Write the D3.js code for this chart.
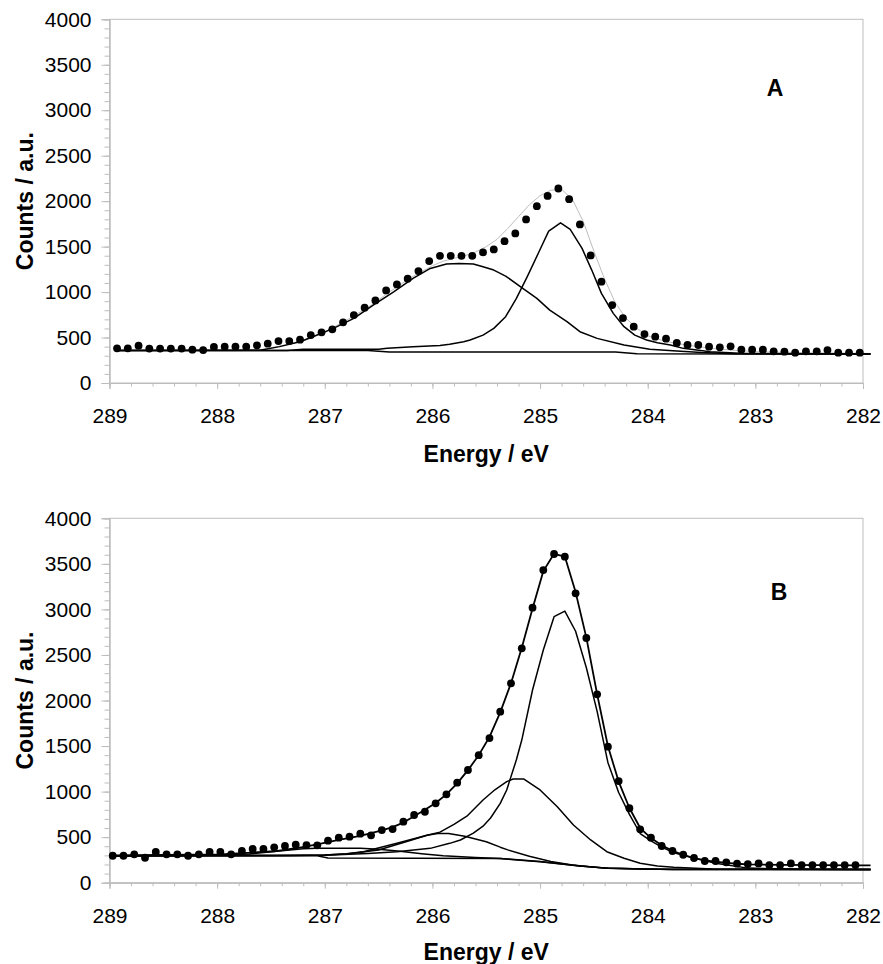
<!DOCTYPE html>
<html>
<head>
<meta charset="utf-8">
<script src="https://d3js.org/d3.v7.min.js"></script>
<style>
body { margin: 0; background: #fff; }
text { font-family: "Liberation Sans", Arial, sans-serif; }
</style>
</head>
<body>
<div id="chart"></div>
<script>
// ---- panel A : measured points ----
var energyA = [288.93,288.83,288.73,288.63,288.53,288.43,288.33,288.23,288.13,288.03,
	287.93,287.83,287.73,287.63,287.53,287.43,287.33,287.23,287.13,287.03,
	286.93,286.83,286.73,286.63,286.53,286.43,286.33,286.23,286.13,286.03,
	285.93,285.83,285.73,285.63,285.53,285.43,285.33,285.23,285.13,285.03,
	284.93,284.83,284.73,284.63,284.53,284.43,284.33,284.23,284.13,284.03,
	283.93,283.83,283.73,283.63,283.53,283.43,283.33,283.23,283.13,283.03,
	282.93,282.83,282.73,282.63,282.53,282.43,282.33,282.23,282.13,282.03];
var countsA = [381,381,410,379,379,379,379,366,362,396,
	399,399,399,414,432,461,461,476,527,557,
	590,667,747,828,908,1018,1084,1147,1231,1341,
	1399,1399,1399,1399,1436,1469,1560,1645,1799,1945,
	2058,2139,2022,1744,1403,1114,857,714,619,538,
	509,487,440,418,418,399,392,403,366,366,
	366,348,344,333,348,348,362,333,333,333];

// panel A : fitted curves [energy, counts]
var bgA = [[288.93,357],[286.6,357],[286.4,341],[284.3,341],[284.1,322],[281.93,318]];
var peak1A = [[288.93,357],[287.6,360],[287.42,400],[287.23,454],[287.11,509],[286.92,601],[286.73,711],
	[286.55,857],[286.36,1003],[286.18,1151],[286.02,1260],[285.87,1308],[285.75,1315],[285.62,1308],
	[285.53,1278],[285.43,1242],[285.32,1176],[285.18,1058],[285.03,931],[284.91,802],[284.75,674],
	[284.63,564],[284.47,491],[284.22,418],[283.98,370],[283.73,352],[283.5,335],[283.2,322],[281.93,318]];
var peak2A = [[288.93,357],[287.35,357],[287.2,370],[286.5,372],[286.42,381],[286.18,399],[285.93,412],
	[285.84,425],[285.71,454],[285.65,473],[285.53,527],[285.43,601],[285.32,729],[285.22,931],
	[285.12,1168],[285.01,1443],[284.92,1670],[284.81,1762],[284.72,1689],[284.61,1480],[284.52,1242],
	[284.43,986],[284.32,766],[284.22,619],[284.12,527],[284.01,473],[283.91,443],[283.79,418],
	[283.67,381],[283.42,344],[283.1,325],[281.93,318]];
var envA = [[288.93,360],[287.6,365],[287.4,410],[287.2,470],[287.0,560],[286.8,690],[286.6,830],
	[286.4,1000],[286.2,1160],[286.0,1290],[285.9,1340],[285.8,1370],[285.7,1400],[285.6,1440],
	[285.5,1500],[285.4,1580],[285.3,1700],[285.2,1830],[285.1,1960],[285.0,2060],[284.9,2120],
	[284.8,2130],[284.7,2020],[284.6,1780],[284.5,1450],[284.4,1140],[284.3,880],[284.2,710],
	[284.1,600],[284.0,520],[283.9,480],[283.8,450],[283.6,410],[283.4,380],[283.2,360],[283.0,345],
	[282.6,335],[281.93,325]];

// ---- panel B : measured points ----
var energyB = [288.97,288.87,288.77,288.67,288.57,288.47,288.37,288.27,288.17,288.07,
	287.97,287.87,287.77,287.67,287.57,287.47,287.37,287.27,287.17,287.07,
	286.97,286.87,286.77,286.67,286.57,286.47,286.37,286.27,286.17,286.07,
	285.97,285.87,285.77,285.67,285.57,285.47,285.37,285.27,285.17,285.07,
	284.97,284.87,284.77,284.67,284.57,284.47,284.37,284.27,284.17,284.07,
	283.97,283.87,283.77,283.67,283.57,283.47,283.37,283.27,283.17,283.07,
	282.97,282.87,282.77,282.67,282.57,282.47,282.37,282.27,282.17,282.07];
var countsB = [296,296,311,274,337,311,311,296,311,337,
	337,311,348,370,370,388,403,417,413,410,
	461,494,505,538,520,578,589,670,743,779,
	871,970,1098,1237,1400,1588,1877,2189,2573,3019,
	3432,3608,3579,3177,2686,2068,1493,1116,817,586,
	494,403,348,307,271,238,238,224,209,204,
	212,194,194,212,194,194,194,194,194,194];

// panel B : fitted curves
var bgB = [[288.97,296],[287.07,296],[286.97,270],[285.37,265],[285.0,231],[284.63,183],[284.37,158],
	[283.77,145],[281.93,145]];
var peak1B = [[288.97,296],[287.5,298],[287.0,300],[286.6,320],[286.33,340],[286.02,377],[285.84,432],
	[285.74,469],[285.62,545],[285.53,620],[285.46,710],[285.37,870],[285.31,1018],[285.22,1349],
	[285.17,1566],[285.07,2115],[284.97,2555],[284.87,2920],[284.77,2982],[284.67,2760],[284.57,2360],
	[284.47,1880],[284.37,1320],[284.27,990],[284.17,750],[284.07,540],[283.97,460],[283.87,390],
	[283.77,335],[283.67,300],[283.37,213],[283.07,160],[282.5,148],[281.93,145]];
var peak2B = [[288.97,296],[287.5,298],[287.0,305],[286.8,318],[286.64,340],[286.33,432],[286.05,520],
	[285.93,555],[285.8,640],[285.68,730],[285.62,800],[285.53,908],[285.42,1020],[285.31,1110],
	[285.25,1138],[285.15,1138],[285.0,1018],[284.84,834],[284.69,633],[284.53,469],[284.38,340],
	[284.22,268],[284.07,213],[283.91,183],[283.76,169],[283.4,150],[281.93,145]];
var peak3B = [[288.97,296],[287.3,298],[287.0,304],[286.8,315],[286.5,359],[286.2,465],[286.05,520],
	[285.95,540],[285.85,540],[285.7,510],[285.5,450],[285.37,390],[285.3,360],[285.1,290],[284.9,232],
	[284.7,195],[284.4,160],[284.0,148],[281.93,145]];
var peak4B = [[288.97,296],[288.0,300],[287.7,315],[287.4,350],[287.2,372],[287.07,377],[286.67,377],
	[286.5,368],[286.3,345],[286.1,318],[285.9,295],[285.6,276],[285.37,266],[285.0,232],[284.63,184],
	[284.37,159],[283.77,146],[281.93,145]];
var envB = [[288.97,300],[287.97,312],[287.47,345],[287.27,378],[287.07,420],[286.87,470],[286.67,515],
	[286.47,575],[286.37,610],[286.27,660],[286.17,730],[286.07,800],[285.97,875],[285.87,970],
	[285.77,1090],[285.67,1235],[285.57,1400],[285.47,1600],[285.37,1870],[285.27,2190],[285.17,2580],
	[285.07,3010],[284.97,3420],[284.87,3610],[284.77,3580],[284.67,3190],[284.57,2690],[284.47,2070],
	[284.37,1500],[284.27,1110],[284.17,820],[284.07,600],[283.97,490],[283.87,410],[283.77,350],
	[283.67,305],[283.57,270],[283.47,245],[283.37,230],[283.27,218],[283.17,208],[283.07,202],
	[282.77,195],[282.07,190],[281.93,190]];

var energyTicks = [289, 288, 287, 286, 285, 284, 283, 282];
var countTicks = [0, 500, 1000, 1500, 2000, 2500, 3000, 3500, 4000];

var width = 883, height = 964;
var left = 109.5, right = 863;
var gridColor = "#bdbdbd";

var svg = d3.select("#chart").append("svg")
	.attr("width", width)
	.attr("height", height);

function drawPanel(p) {
	var x = d3.scaleLinear().domain([289, 282]).range([left, right]);
	var y = d3.scaleLinear().domain([0, 4000]).range([p.bottom, p.top]);
	var g = svg.append("g");

	// plot area frame
	g.append("rect")
		.attr("x", left).attr("y", p.top)
		.attr("width", right - left).attr("height", p.bottom - p.top)
		.attr("fill", "none").attr("stroke", gridColor).attr("stroke-width", 1);

	// minor ticks first, then the labelled ones
	var yMinor = g.append("g").attr("transform", "translate(" + left + ",0)")
		.call(d3.axisLeft(y).tickValues(d3.range(0, 4001, 100)).tickSize(5).tickFormat(""));
	var yMajor = g.append("g").attr("transform", "translate(" + left + ",0)")
		.call(d3.axisLeft(y).tickValues(countTicks).tickSize(8).tickPadding(10).tickFormat(d3.format("d")));
	var xMinor = g.append("g").attr("transform", "translate(0," + p.bottom + ")")
		.call(d3.axisBottom(x).tickValues(d3.range(282, 289.01, 0.2)).tickSize(3.5).tickFormat(""));
	var xMajor = g.append("g").attr("transform", "translate(0," + p.bottom + ")")
		.call(d3.axisBottom(x).tickValues(energyTicks).tickSize(6).tickPadding(19).tickFormat(d3.format("d")));

	[yMinor, yMajor, xMinor, xMajor].forEach(function(a) {
		a.select(".domain").attr("stroke", gridColor);
		a.selectAll(".tick line").attr("stroke", gridColor);
		a.selectAll("text").attr("fill", "#000").attr("font-size", 21)
			.attr("font-family", "'Liberation Sans', Arial, sans-serif");
	});

	var line = d3.line()
		.x(function(d) { return x(d[0]); })
		.y(function(d) { return y(d[1]); });

	p.lines.forEach(function(l) {
		g.append("path")
			.attr("d", line(l.data))
			.attr("fill", "none")
			.attr("stroke", l.color)
			.attr("stroke-width", l.width)
			.attr("stroke-linejoin", "round");
	});

	g.selectAll(".dot")
		.data(p.energy)
		.enter()
		.append("circle")
		.attr("cx", function(d) { return x(d); })
		.attr("cy", function(d, i) { return y(p.counts[i]); })
		.attr("r", 3.9)
		.attr("fill", "#000");

	// titles
	g.append("text")
		.attr("transform", "translate(33," + (p.top + p.bottom) / 2 + ") rotate(-90)")
		.attr("text-anchor", "middle")
		.attr("font-size", 23).attr("font-weight", "bold")
		.text("Counts / a.u.");
	g.append("text")
		.attr("x", (left + right) / 2).attr("y", p.titleY)
		.attr("text-anchor", "middle")
		.attr("font-size", 23).attr("font-weight", "bold")
		.text("Energy / eV");
	g.append("text")
		.attr("x", p.labelX).attr("y", p.labelY)
		.attr("text-anchor", "middle")
		.attr("font-size", 23).attr("font-weight", "bold")
		.text(p.label);
}

drawPanel({
	top: 19.3, bottom: 383,
	energy: energyA, counts: countsA,
	lines: [
		{data: envA, color: "#bdbdbd", width: 1},
		{data: bgA, color: "#000", width: 1.5},
		{data: peak1A, color: "#000", width: 1.5},
		{data: peak2A, color: "#000", width: 1.5}
	],
	label: "A", labelX: 775, labelY: 95.5, titleY: 462
});

drawPanel({
	top: 518.3, bottom: 882.7,
	energy: energyB, counts: countsB,
	lines: [
		{data: bgB, color: "#000", width: 1.5},
		{data: peak4B, color: "#000", width: 1.5},
		{data: peak3B, color: "#000", width: 1.5},
		{data: peak2B, color: "#000", width: 1.5},
		{data: peak1B, color: "#000", width: 1.5},
		{data: envB, color: "#000", width: 1.8}
	],
	label: "B", labelX: 779, labelY: 599.5, titleY: 960
});
</script>
</body>
</html>
